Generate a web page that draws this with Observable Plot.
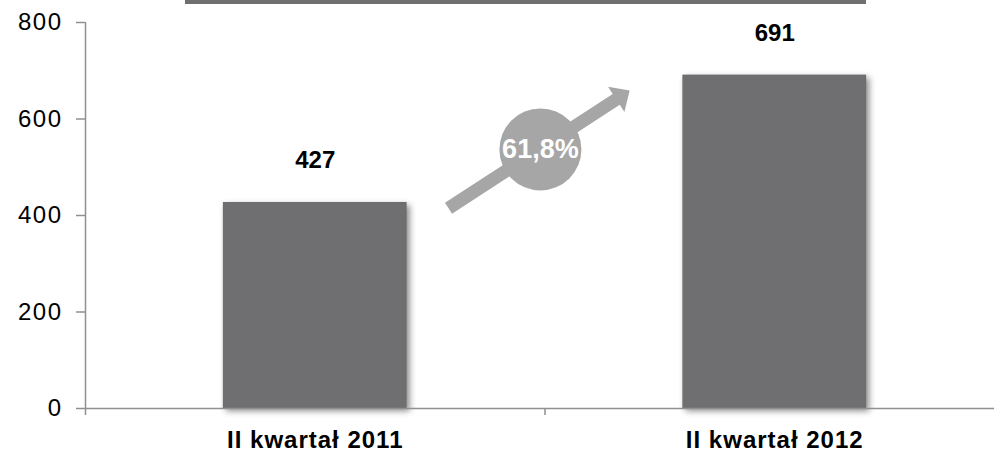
<!DOCTYPE html>
<html><head><meta charset="utf-8">
<script src="https://cdn.jsdelivr.net/npm/d3@7"></script>
<script src="https://cdn.jsdelivr.net/npm/@observablehq/plot@0.6"></script>
<style>
body{margin:0;background:#fff;}
#wrap{position:relative;width:994px;height:452px;overflow:hidden;}
#topbar{position:absolute;left:185px;top:0;width:681px;height:4px;background:#6f6f6f;}
g[aria-label="rect"] rect{filter:drop-shadow(3px 3px 3px rgba(0,0,0,0.45));}
g[aria-label="x-axis tick label"] text{letter-spacing:1px;}
g[aria-label="y-axis tick label"] text{letter-spacing:1.5px;}
</style></head>
<body><div id="wrap"><div id="topbar"></div></div>
<script>
// data
const categories = ["II kwartał 2011", "II kwartał 2012"];
const values = [427, 691];
const yTicks = [0, 200, 400, 600, 800];
const growthLabel = "61,8%";
// annotation anchors in data units (x: category-index units, y: value)
const arrowTail = [0.79, 415];
const badgeCenter = [0.99, 537];

const rows = categories.map((c, i) => ({cat: c, i, value: values[i]}));
const gray = "#909090";
const font = "'Liberation Sans', Arial, sans-serif";

const arrowShape = {
  draw(ctx, l) {
    const w = 6.5, hw = 15, hl = 16;
    ctx.moveTo(-w, 0);
    ctx.lineTo(-w, -(l - hl));
    ctx.lineTo(-hw, -(l - hl));
    ctx.lineTo(0, -l);
    ctx.lineTo(hw, -(l - hl));
    ctx.lineTo(w, -(l - hl));
    ctx.lineTo(w, 0);
    ctx.closePath();
  }
};

const chart = Plot.plot({
  width: 994,
  height: 452,
  marginTop: 22,
  marginBottom: 44,
  marginLeft: 85,
  marginRight: 0,
  style: {fontFamily: font, fontSize: "24px", color: "#000", background: "transparent"},
  x: {type: "linear", domain: [0, categories.length], range: [85, 1004], axis: null},
  y: {domain: [0, 800], axis: null},
  marks: [
    Plot.rectY(rows, {x1: d => d.i + 0.3, x2: d => d.i + 0.7, y: "value", fill: "#6f6f71"}),
    Plot.ruleX([0], {stroke: gray, strokeWidth: 1.5}),
    Plot.ruleY([0], {stroke: gray, strokeWidth: 1.5}),
    Plot.axisY({ticks: yTicks, tickSize: 9, tickPadding: 14, stroke: gray, strokeWidth: 1.5, tickFormat: d => d, fontSize: 24, label: null}),
    Plot.axisX({ticks: d3.range(categories.length + 1), tickSize: 7, stroke: gray, strokeWidth: 1.5, tickFormat: () => "", label: null}),
    Plot.axisX({ticks: categories.map((c, i) => i + 0.5), tickSize: 0, tickPadding: 22, tickFormat: d => categories[Math.floor(d)], fontWeight: "bold", fontSize: 24, label: null}),
    Plot.text(rows, {x: d => d.i + 0.5, y: "value", text: d => String(d.value), dy: -42, fontWeight: "bold", fontSize: 24, fill: "#000"}),
    Plot.vector([arrowTail], {x: d => d[0], y: d => d[1], length: 216, rotate: 57, anchor: "start", shape: arrowShape, fill: "#a6a6a6", stroke: "none"}),
    Plot.dot([badgeCenter], {x: d => d[0], y: d => d[1], r: 41, fill: "#a6a6a6", stroke: "none"}),
    Plot.text([badgeCenter], {x: d => d[0], y: d => d[1], text: () => growthLabel, fill: "#fff", fontWeight: "bold", fontSize: 27})
  ]
});
chart.style.position = "absolute";
chart.style.left = "0";
chart.style.top = "0";
document.getElementById("wrap").appendChild(chart);
</script>
</body></html>
